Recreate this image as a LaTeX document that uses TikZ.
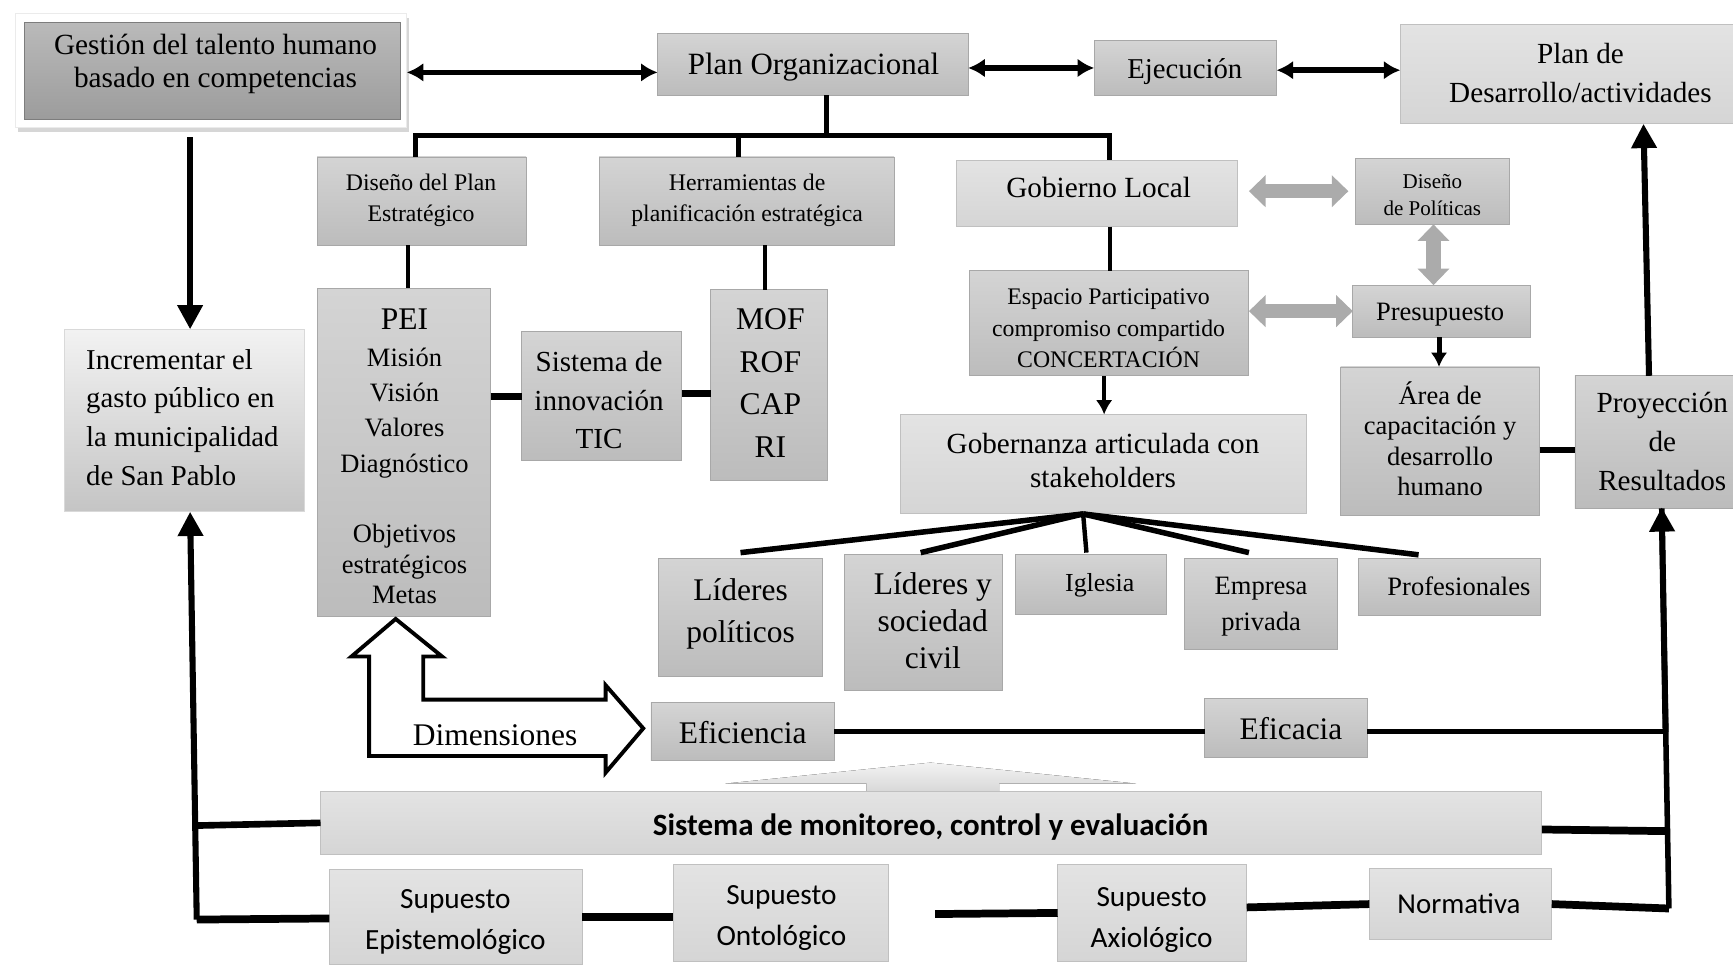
\documentclass[tikz,border=0pt]{standalone}
\usepackage{fontspec}
\setmainfont{Liberation Serif}
\newfontfamily\calib{Carlito}
\usetikzlibrary{arrows.meta,shadows,calc}
\newcommand\fz[2]{\fontsize{#1}{#2}\selectfont}
\newcommand\bx[6]{\node[#1, minimum width={(#5-#3)*1pt}, minimum height={(#6-#4)*1pt}] (#2) at ({(#3+#5)/2},{(#4+#6)/2}) {};}
\definecolor{midT}{HTML}{D4D4D4}
\definecolor{midB}{HTML}{BCBCBC}
\definecolor{bord}{HTML}{A8A8A8}
\definecolor{liteT}{HTML}{E3E3E3}
\definecolor{liteB}{HTML}{D5D5D5}
\definecolor{gestT}{HTML}{BABABA}
\definecolor{gestB}{HTML}{9C9C9C}
\definecolor{grayarr}{HTML}{ABABAB}
\begin{document}
\begin{tikzpicture}[x=1pt,y=-1pt,
  base/.style={rectangle, inner sep=0pt, outer sep=0pt, line width=0.8pt},
  midbox/.style={base, top color=midT, bottom color=midB, draw=bord},
  litebox/.style={base, top color=liteT, bottom color=liteB, draw=liteB!90!black},
  gestbox/.style={base, top color=gestT, bottom color=gestB, draw=gestB!80!black},
  incrbox/.style={base, top color=white!95!black, bottom color=black!23, draw=black!15},
  glow/.style={base, fill=white, draw=black!8, drop shadow={shadow xshift=2pt, shadow yshift=-4pt, opacity=0.35, fill=black!45}},
  txt/.style={align=center, inner sep=0pt, outer sep=0pt},
  blk/.style={line width=4.5pt},
  thk/.style={line width=7pt},
  darr/.style={line width=5pt, arrows={Latex[length=15pt,width=17pt]-Latex[length=15pt,width=17pt]}},
  bigarr/.style={line width=5.5pt, -{Triangle[length=22pt,width=22pt]}},
  smarr/.style={line width=3.8pt, -{Latex[length=13pt,width=15pt]}},
  garr/.style={line width=13pt, draw=grayarr, arrows={Triangle[length=15pt,width=28pt]-Triangle[length=15pt,width=28pt]}},
]
\useasboundingbox (0,0) rectangle (1568,873);
\fill[white] (0,0) rectangle (1568,873);

% ---------- boxes ----------
\bx{glow}{gestionO}{14}{12}{368}{115}
\bx{gestbox}{gestion}{22}{20}{362}{108}
\bx{midbox}{planorg}{595}{30}{876}{86}
\bx{midbox}{ejec}{990}{37}{1155}{86}
\bx{litebox}{plandes}{1267}{22}{1568}{112}
\bx{midbox}{disenoplan}{287}{142}{476}{222}
\bx{midbox}{herram}{542}{142}{809}{222}
\bx{litebox}{gobierno}{865}{145}{1120}{205}
\bx{midbox}{disenopol}{1226}{143}{1366}{203}
\bx{midbox}{espacio}{877}{245}{1130}{340}
\bx{midbox}{presup}{1224}{258}{1385}{305}
\bx{litebox}{gobernanza}{815}{375}{1182}{465}
\bx{midbox}{area}{1213}{332}{1393}{466}
\bx{midbox}{proyec}{1425}{340}{1568}{460}
\bx{incrbox}{incr}{58}{298}{275}{463}
\bx{midbox}{pei}{287}{261}{444}{558}
\bx{midbox}{sisinn}{472}{300}{617}{417}
\bx{midbox}{mof}{643}{262}{749}{435}
\bx{midbox}{lidpol}{596}{505}{744}{612}
\bx{midbox}{lidsoc}{764}{502}{907}{625}
\bx{midbox}{iglesia}{919}{502}{1055}{556}
\bx{midbox}{empresa}{1072}{505}{1210}{588}
\bx{midbox}{profes}{1229}{505}{1394}{557}
\bx{midbox}{eficiencia}{589}{636}{755}{688}
\bx{midbox}{eficacia}{1090}{632}{1237}{685}

% faint up arrow behind the monitoring bar
\fill[top color=black!5, bottom color=black!16] (656,709) -- (842,690) -- (1028,709) -- (904,709) -- (904,718) -- (784,718) -- (784,709) -- cycle;
\bx{litebox}{sistmon}{290}{716}{1395}{773}
\bx{litebox}{supep}{298}{787}{527}{873}
\bx{litebox}{supont}{609}{782}{804}{870}
\bx{litebox}{supax}{957}{782}{1128}{870}
\bx{litebox}{normat}{1239}{786}{1404}{850}

% ---------- texts ----------
\node[txt,font=\fz{26.5}{30}] (gestion-t) at (195,57.5) {Gestión del talento humano\\basado en competencias};
\node[txt,font=\fz{28}{32}] (planorg-t) at (736,61) {Plan Organizacional};
\node[txt,font=\fz{26}{30}] (ejec-t) at (1072,65) {Ejecución};
\node[txt,font=\fz{26.4}{35}] (plandes-t) at (1430,66) {Plan de\\Desarrollo/actividades};
\node[txt,font=\fz{21.5}{28}] (disenoplan-t) at (381,181) {Diseño del Plan\\Estratégico};
\node[txt,font=\fz{21.5}{28}] (herram-t) at (676,181) {Herramientas de\\planificación estratégica};
\node[txt,font=\fz{26.5}{30}] (gobierno-t) at (994,169.5) {Gobierno Local};
\node[txt,font=\fz{19}{25}] (disenopol-t) at (1296,176.5) {Diseño\\de Políticas};
\node[txt,font=\fz{21.5}{28.5}] (espacio-t) at (1003,297) {Espacio Participativo\\compromiso compartido\\CONCERTACIÓN};
\node[txt,font=\fz{24}{28}] (presup-t) at (1303,285) {Presupuesto};
\node[txt,font=\fz{26.4}{31}] (gobernanza-t) at (998,416.5) {Gobernanza articulada con\\stakeholders};
\node[txt,font=\fz{24}{27.7}] (area-t) at (1303,397) {Área de\\capacitación y\\desarrollo\\humano};
\node[txt,font=\fz{26.4}{35}] (proyec-t) at (1504,399.5) {Proyección\\de\\Resultados};
\node[txt,font=\fz{26}{35},align=left,anchor=west] (incr-t) at (78,377.5) {Incrementar el\\gasto público en\\la municipalidad\\de San Pablo};
\node[txt,font=\fz{28.5}{30}] (pei-a) at (366,289) {PEI};
\node[txt,font=\fz{24}{32}] (pei-b) at (366,373.5) {Misión\\Visión\\Valores\\Diagnóstico};
\node[txt,font=\fz{24}{27.5}] (pei-c) at (366,510.5) {Objetivos\\estratégicos\\Metas};
\node[txt,font=\fz{26.3}{35}] (sisinn-t) at (542,362) {Sistema de\\innovación\\TIC};
\node[txt,font=\fz{28.6}{38.5}] (mof-t) at (697,346.5) {MOF\\ROF\\CAP\\RI};
\node[txt,font=\fz{28.5}{38}] (lidpol-t) at (670,555) {Líderes\\políticos};
\node[txt,font=\fz{28.5}{33.5}] (lidsoc-t) at (844,561.5) {Líderes y\\sociedad\\civil};
\node[txt,font=\fz{23.5}{28}] (iglesia-t) at (995,530) {Iglesia};
\node[txt,font=\fz{24}{32}] (empresa-t) at (1141,549) {Empresa\\privada};
\node[txt,font=\fz{24}{28}] (profes-t) at (1320,530.5) {Profesionales};
\node[txt,font=\fz{28.5}{32}] (eficiencia-t) at (672,662.5) {Eficiencia};
\node[txt,font=\fz{28.4}{32}] (eficacia-t) at (1168,659.5) {Eficacia};
\node[txt,font=\calib\bfseries\fz{28}{32}] (sistmon-t) at (842,748) {Sistema de monitoreo, control y evaluación};
\node[txt,font=\calib\fz{26.5}{37}] (supep-t) at (412,834.5) {Supuesto\\Epistemológico};
\node[txt,font=\calib\fz{26.5}{37}] (supont-t) at (707,830.5) {Supuesto\\Ontológico};
\node[txt,font=\calib\fz{26.5}{37}] (supax-t) at (1042,832.5) {Supuesto\\Axiológico};
\node[txt,font=\calib\fz{26.1}{30}] (normat-t) at (1320,818) {Normativa};

% ---------- Dimensiones arrow ----------
\draw[line width=3.5pt, fill=white, line join=miter]
  (358,560) -- (400,594) -- (383,594) -- (383,633) -- (548,633) -- (548,620) -- (582,659)
  -- (548,699) -- (548,684) -- (334,684) -- (334,594) -- (318,594) -- cycle;
\node[txt,font=\fz{28.5}{32}] (dim-t) at (448,665) {Dimensiones};

% ---------- coordinates ----------
\coordinate (treeTop) at (748,123);
\coordinate (j1) at (376,123);
\coordinate (j2) at (668,123);
\coordinate (j3) at (1004,123);
\coordinate (fan) at (980,465);
\coordinate (rEf) at (1507,662);
\coordinate (rSis) at (1509,752);
\coordinate (rb) at (1510,822);
\coordinate (lSis) at (176,747);
\coordinate (lb) at (178,832);
\coordinate (gapc) at (846,827);

% ---------- connectors ----------
\draw[darr] ([yshift=-2pt]gestionO.east) -- ([yshift=-2pt]gestionO.east -| planorg.west);
\draw[darr] (planorg.east |- ejec.west) -- (ejec.west);
\draw[darr] ([yshift=-2pt]ejec.east) -- ([yshift=-2pt]ejec.east -| plandes.west);

\draw[blk] (planorg.south -| treeTop) -- (treeTop);
\draw[blk, line cap=rect] (j1) -- (j3);
\draw[blk] (j1) -- (j1 |- disenoplan.north);
\draw[blk] (j2) -- (j2 |- herram.north);
\draw[blk] (j3) -- (j3 |- gobierno.north);

\draw[line width=3.5pt] ([xshift=-12.5pt]disenoplan.south) -- ([xshift=-12.5pt]disenoplan.south |- pei.north);
\draw[line width=3.5pt] ([xshift=-4pt]mof.north |- herram.south) -- ([xshift=-4pt]mof.north);
\draw[line width=6pt] (sisinn.west -| pei.east) -- (sisinn.west);
\draw[line width=5.5pt] ([yshift=2.5pt]sisinn.east) -- ([yshift=2.5pt]sisinn.east -| mof.west);
\draw[line width=3.5pt] ([xshift=11.5pt]gobierno.south) -- ([xshift=11.5pt]gobierno.south |- espacio.north);
\draw[smarr] ([xshift=-4.5pt]espacio.south) -- ([xshift=-4.5pt]espacio.south |- gobernanza.north);

\draw[garr, shorten <=10pt, shorten >=6pt] (gobierno.east |- disenopol.west) -- (disenopol.west);
\draw[garr] ([xshift=1pt]disenopol.south) -- ([xshift=1pt]disenopol.south |- presup.north);
\draw[garr] (espacio.east |- presup.west) -- (presup.west);

\draw[smarr, line width=4.5pt] ([xshift=-2.5pt]presup.south) -- ([xshift=-2.5pt]presup.south |- area.north);
\draw[line width=5pt] ([yshift=-8pt]area.east) -- ([yshift=-8pt]area.east -| proyec.west);
\draw[bigarr] ([xshift=-4.5pt]proyec.north) -- ([xshift=-9.5pt]proyec.north |- plandes.south);

\draw[line width=5pt] (fan) -- ([yshift=5pt]lidpol.north);
\draw[line width=5pt] (fan) -- ([xshift=-2.5pt,yshift=2pt]lidsoc.north);
\draw[line width=4pt] (fan) -- ([xshift=-4pt,yshift=2pt]iglesia.north);
\draw[line width=5pt] (fan) -- ([xshift=-11pt,yshift=5pt]empresa.north);
\draw[line width=5pt] (fan) -- ([xshift=-28pt,yshift=3pt]profes.north);

\draw[blk] ([yshift=-3.5pt]eficacia.east) -- (rEf);
\draw[blk] (eficiencia.east) -- (eficiencia.east -| eficacia.west);
\draw[line width=5pt] (rb) -- ([xshift=7pt]proyec.south) ;
\draw[bigarr, shorten >=-1pt] (rEf) -- ([xshift=7pt]proyec.south);
\draw[thk] ([yshift=-6pt]sistmon.east) -- (rSis);
\draw[thk] (normat.east) -- (rb);

\draw[bigarr] (lb) -- ([xshift=5.5pt]incr.south);
\draw[bigarr, shorten <=9pt] ([xshift=-19pt]gestionO.south) -- ([xshift=-19pt]gestionO.south |- incr.north);
\draw[line width=6pt] (sistmon.west) -- (lSis);
\draw[thk] ([yshift=-1pt]supep.west) -- (lb);

\draw[thk] (supep.east) -- (supep.east -| supont.west);
\draw[thk] (gapc) -- (supax.west);
\draw[thk] ([yshift=5pt]supax.east) -- (normat.west);
\end{tikzpicture}
\end{document}
